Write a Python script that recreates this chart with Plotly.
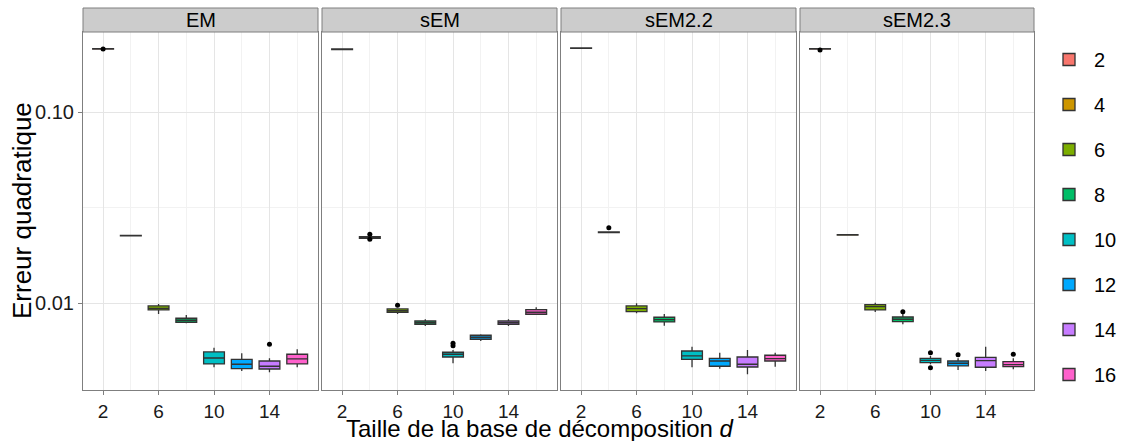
import plotly.graph_objects as go

# ---------------- data ----------------
D_VALUES = [2, 4, 6, 8, 10, 12, 14, 16]
METHODS = ["EM", "sEM", "sEM2.2", "sEM2.3"]
COLORS = ["#F8766D", "#CD9600", "#7CAE00", "#00BE67",
          "#00BFC4", "#00A9FF", "#C77CFF", "#FF61CC"]

# EM
EM_LOW = [0.2125, 0.02248, 0.00879, 0.007859, 0.004624, 0.004422, 0.004354, 0.004624]
EM_Q1 = [0.2138, 0.02253, 0.00923, 0.007954, 0.004811, 0.004546, 0.004529, 0.004811]
EM_MED = [0.2145, 0.02259, 0.00941, 0.008147, 0.005171, 0.004794, 0.004680, 0.005110]
EM_Q3 = [0.2152, 0.02265, 0.00968, 0.008346, 0.005560, 0.005091, 0.004988, 0.005408]
EM_HIGH = [0.2160, 0.02270, 0.00992, 0.008683, 0.005856, 0.005478, 0.005153, 0.005744]
EM_OUT_D = [2, 14]
EM_OUT_Y = [0.2140, 0.006099]

# sEM
SEM_LOW = [0.2125, 0.02185, 0.008790, 0.007607, 0.004852, 0.006346, 0.007607, 0.008683]
SEM_Q1 = [0.2130, 0.02190, 0.008973, 0.007765, 0.005234, 0.006481, 0.007765, 0.008759]
SEM_MED = [0.2137, 0.02224, 0.009147, 0.007916, 0.005408, 0.006639, 0.007916, 0.008973]
SEM_Q3 = [0.2144, 0.02230, 0.009340, 0.008078, 0.005540, 0.006801, 0.008078, 0.009258]
SEM_HIGH = [0.2150, 0.02235, 0.009415, 0.008246, 0.005696, 0.006883, 0.008246, 0.009529]
SEM_OUT_D = [4, 4, 6, 10, 10]
SEM_OUT_Y = [0.02298, 0.02163, 0.009762, 0.006176, 0.005999]

# sEM2.2
SEM22_LOW = [0.2152, 0.02338, 0.008865, 0.007634, 0.004624, 0.004546, 0.004249, 0.004657]
SEM22_Q1 = [0.2157, 0.02344, 0.009038, 0.007982, 0.005091, 0.004680, 0.004640, 0.004988]
SEM22_MED = [0.2163, 0.02353, 0.009370, 0.008207, 0.005298, 0.004988, 0.004794, 0.005128]
SEM22_Q3 = [0.2169, 0.02362, 0.009680, 0.008447, 0.005627, 0.005153, 0.005234, 0.005343]
SEM22_HIGH = [0.2175, 0.02368, 0.010000, 0.008790, 0.005927, 0.005513, 0.005696, 0.005513]
SEM22_OUT_D = [4]
SEM22_OUT_Y = [0.02487]

# sEM2.3
SEM23_LOW = [0.2135, 0.02268, 0.009005, 0.007765, 0.004794, 0.004476, 0.004422, 0.004515]
SEM23_Q1 = [0.2139, 0.02272, 0.009224, 0.008011, 0.004887, 0.004697, 0.004624, 0.004657]
SEM23_MED = [0.2145, 0.02278, 0.009598, 0.008246, 0.005030, 0.004852, 0.005006, 0.004771]
SEM23_Q3 = [0.2151, 0.02284, 0.009833, 0.008477, 0.005153, 0.004988, 0.005215, 0.004946]
SEM23_HIGH = [0.2155, 0.02288, 0.010073, 0.008790, 0.005298, 0.005153, 0.005927, 0.005153]
SEM23_OUT_D = [2, 8, 10, 10, 12, 16]
SEM23_OUT_Y = [0.2120, 0.009038, 0.005513, 0.004601, 0.005382, 0.005408]

X_TICK_VALUES = [2, 6, 10, 14]
X_MINOR_VALUES = [4, 8, 12, 16]
Y_TICK_VALUES = [0.01, 0.1]
Y_TICK_LABELS = ["0.01", "0.10"]
Y_MINOR_VALUES = [0.0316]

Y_TITLE = "Erreur quadratique"
X_TITLE = "Taille de la base de décomposition <i>d</i>"

STATS = {
    "EM": (EM_LOW, EM_Q1, EM_MED, EM_Q3, EM_HIGH, EM_OUT_D, EM_OUT_Y),
    "sEM": (SEM_LOW, SEM_Q1, SEM_MED, SEM_Q3, SEM_HIGH, SEM_OUT_D, SEM_OUT_Y),
    "sEM2.2": (SEM22_LOW, SEM22_Q1, SEM22_MED, SEM22_Q3, SEM22_HIGH, SEM22_OUT_D, SEM22_OUT_Y),
    "sEM2.3": (SEM23_LOW, SEM23_Q1, SEM23_MED, SEM23_Q3, SEM23_HIGH, SEM23_OUT_D, SEM23_OUT_Y),
}

# ---------------- layout constants ----------------
W, H = 1124, 441
ML, MR, MT, MB = 83, 90, 32, 51
PW = W - ML - MR
PH = H - MT - MB
PANELS_PX = [(83, 318), (322, 557), (561, 796), (800, 1034)]
STRIP_H = 24
FONT = "Liberation Sans, Arial, Helvetica, sans-serif"

fig = go.Figure()

for k, m in enumerate(METHODS):
    low, q1, med, q3, high, od, oy = STATS[m]
    xa = "x" if k == 0 else f"x{k + 1}"
    ya = "y" if k == 0 else f"y{k + 1}"
    for i, d in enumerate(D_VALUES):
        fig.add_trace(go.Box(
            x=[d], lowerfence=[low[i]], q1=[q1[i]], median=[med[i]],
            q3=[q3[i]], upperfence=[high[i]],
            width=1.5, whiskerwidth=0,
            fillcolor=COLORS[i],
            line=dict(color="#333333", width=1.3),
            name=str(d), legendgroup=str(d), showlegend=(k == 0),
            boxpoints=False, xaxis=xa, yaxis=ya, hoverinfo="skip",
        ))
    fig.add_trace(go.Scatter(
        x=od, y=oy, mode="markers",
        marker=dict(color="black", size=5),
        showlegend=False, xaxis=xa, yaxis=ya, hoverinfo="skip",
    ))

layout = dict(
    width=W, height=H,
    margin=dict(l=ML, r=MR, t=MT, b=MB, autoexpand=False),
    paper_bgcolor="white", plot_bgcolor="white",
    font=dict(family=FONT, size=19, color="#000000"),
    showlegend=True,
    legend=dict(
        xref="container", yref="container",
        x=1044 / W, xanchor="left",
        y=1 - 40 / H, yanchor="top",
        font=dict(size=20, color="#000000"),
        tracegroupgap=16, itemwidth=40,
        maxheight=430,
        bgcolor="rgba(0,0,0,0)",
    ),
    shapes=[], annotations=[],
)

for k, m in enumerate(METHODS):
    sfx = "" if k == 0 else str(k + 1)
    x0, x1 = PANELS_PX[k]
    layout["xaxis" + sfx] = dict(
        domain=[(x0 - ML) / PW, (x1 - ML) / PW],
        anchor="y" + sfx,
        range=[0.55, 17.5],
        tickmode="array", tickvals=X_TICK_VALUES,
        ticks="outside", ticklen=4, tickcolor="#7F7F7F",
        tickfont=dict(size=19, color="#1A1A1A"),
        showgrid=True, gridcolor="#E5E5E5", gridwidth=1,
        minor=dict(tickmode="array", tickvals=X_MINOR_VALUES,
                   showgrid=True, gridcolor="#F2F2F2", gridwidth=1),
        showline=True, mirror=True, linecolor="#7F7F7F", linewidth=1,
        zeroline=False, automargin=False,
    )
    layout["yaxis" + sfx] = dict(
        type="log", range=[-2.454, -0.580],
        domain=[0, 1],
        anchor="x" + sfx,
        tickmode="array", tickvals=Y_TICK_VALUES, ticktext=Y_TICK_LABELS,
        ticks="outside" if k == 0 else "", ticklen=4, tickcolor="#7F7F7F",
        showticklabels=(k == 0),
        tickfont=dict(size=20, color="#1A1A1A"),
        showgrid=True, gridcolor="#E5E5E5", gridwidth=1,
        minor=dict(tickmode="array", tickvals=Y_MINOR_VALUES,
                   showgrid=True, gridcolor="#F2F2F2", gridwidth=1),
        showline=True, mirror=True, linecolor="#7F7F7F", linewidth=1,
        zeroline=False, automargin=False,
    )
    if k > 0:
        layout["yaxis" + sfx]["matches"] = "y"
    # facet strip
    layout["shapes"].append(dict(
        type="rect", xref=f"x{sfx} domain", yref="paper",
        x0=0, x1=1, y0=1, y1=1 + STRIP_H / PH,
        fillcolor="#CCCCCC", line=dict(color="#7F7F7F", width=1),
        layer="above",
    ))
    layout["annotations"].append(dict(
        text=m, xref=f"x{sfx} domain", yref="paper",
        x=0.5, y=1 + STRIP_H / 2 / PH, xanchor="center", yanchor="middle",
        showarrow=False, font=dict(size=20, color="#000000"),
    ))

layout["annotations"].append(dict(
    text=X_TITLE, xref="paper", yref="paper",
    x=(540 - ML) / PW, y=(H - MB - 428) / PH,
    xanchor="center", yanchor="middle", showarrow=False,
    font=dict(size=24, color="#000000"),
))
layout["annotations"].append(dict(
    text=Y_TITLE, xref="paper", yref="paper",
    x=(22 - ML) / PW, y=0.5, textangle=-90,
    xanchor="center", yanchor="middle", showarrow=False,
    font=dict(size=26, color="#000000"),
))

fig.update_layout(**layout)
fig.write_html(
    "out.html",
    config={"displayModeBar": False},
    post_script="document.body.style.margin='0';document.body.style.overflow='hidden';",
)
